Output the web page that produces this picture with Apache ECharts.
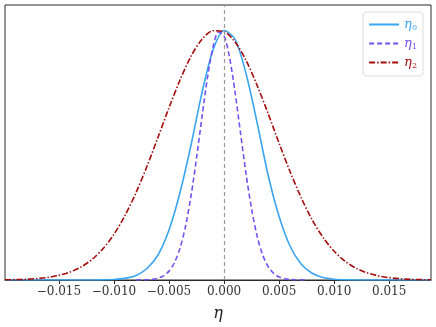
<!DOCTYPE html>
<html>
<head>
<meta charset="utf-8">
<script src="https://cdn.jsdelivr.net/npm/echarts@6/dist/echarts.min.js"></script>
<style>
  html, body { margin: 0; padding: 0; background: #fff; }
  #chart { width: 436px; height: 327px; }
</style>
</head>
<body>
<div id="chart"></div>
<script>
// 曲线数据（从图上读取的 [η, 归一化密度] 点）
const eta0 = [
  [-0.0199, 0], [-0.013, 0], [-0.012, 0.0002], [-0.011, 0.0006], [-0.010, 0.002],
  [-0.009, 0.0065], [-0.008, 0.018], [-0.007, 0.046], [-0.006, 0.10], [-0.005, 0.20],
  [-0.004, 0.35], [-0.003, 0.54], [-0.002, 0.75], [-0.001, 0.92], [0, 0.998],
  [0.001, 0.963], [0.002, 0.825], [0.003, 0.63], [0.004, 0.42],
  [0.005, 0.254], [0.006, 0.135], [0.007, 0.064], [0.008, 0.027], [0.009, 0.010],
  [0.010, 0.0033], [0.011, 0.001], [0.012, 0.0003], [0.013, 0], [0.0188, 0]
];
const eta1 = [
  [-0.008, 0], [-0.007, 0.0011], [-0.0065, 0.0029], [-0.006, 0.0072], [-0.0055, 0.0167],
  [-0.005, 0.0355], [-0.0045, 0.070], [-0.004, 0.128], [-0.0035, 0.215], [-0.003, 0.336],
  [-0.0025, 0.488], [-0.002, 0.654], [-0.0015, 0.811], [-0.001, 0.932], [-0.0005, 0.992],
  [0, 0.976], [0.0005, 0.890], [0.001, 0.751], [0.0015, 0.587], [0.002, 0.424],
  [0.0025, 0.285], [0.003, 0.176], [0.0035, 0.101], [0.004, 0.054], [0.0045, 0.0264],
  [0.005, 0.012], [0.0055, 0.005], [0.006, 0.002], [0.0065, 0.0007], [0.0075, 0]
];
const eta2 = [
  [-0.0199, 0.0008], [-0.019, 0.0015], [-0.018, 0.003], [-0.017, 0.0057], [-0.016, 0.0105],
  [-0.015, 0.0185], [-0.014, 0.0317], [-0.013, 0.052], [-0.012, 0.082], [-0.011, 0.125],
  [-0.010, 0.183], [-0.009, 0.258], [-0.008, 0.349], [-0.007, 0.455], [-0.006, 0.571],
  [-0.005, 0.689], [-0.004, 0.800], [-0.003, 0.895], [-0.002, 0.963], [-0.001, 0.997],
  [0, 0.993], [0.001, 0.952], [0.002, 0.878], [0.003, 0.779], [0.004, 0.666],
  [0.005, 0.547], [0.006, 0.433], [0.007, 0.330], [0.008, 0.241], [0.009, 0.170],
  [0.010, 0.115], [0.011, 0.075], [0.012, 0.047], [0.013, 0.0286], [0.014, 0.0166],
  [0.015, 0.0093], [0.016, 0.005], [0.017, 0.0026], [0.018, 0.0013], [0.0188, 0.0007]
];
const seriesNames = ['η0', 'η1', 'η2'];
const tickValues = [-0.015, -0.010, -0.005, 0, 0.005, 0.010, 0.015];

const colors = ['#3aa5f0', '#7352f5', '#a50d0d'];
const serif = '"DejaVu Serif", "Liberation Serif", serif';

const chart = echarts.init(document.getElementById('chart'));

const fmtTick = v => (v < 0 ? '\u2212' : '') + Math.abs(v).toFixed(3);

const richLabel = {
  i: { fontFamily: serif, fontStyle: 'italic', fontSize: 13 },
  s: { fontFamily: serif, fontSize: 8, padding: [7, 0, 0, 0] }
};

const option = {
  animation: false,
  grid: {
    left: 5, right: 5, top: 5, bottom: 47,
    show: true, borderColor: '#2a2a2a', borderWidth: 1
  },
  legend: {
    right: 13, top: 12,
    orient: 'vertical',
    itemWidth: 30, itemHeight: 10, itemGap: 5,
    backgroundColor: '#fff',
    borderColor: '#dddddd', borderWidth: 1, borderRadius: 3,
    padding: [6, 6, 6, 5],
    itemStyle: { opacity: 0 },
    formatter: name => `{i|η}{s|${name.slice(1)}}`,
    data: seriesNames.map((n, i) => ({
      name: n,
      textStyle: { color: colors[i], rich: richLabel }
    }))
  },
  xAxis: {
    type: 'value',
    min: -0.0199, max: 0.0188,
    name: 'η',
    nameLocation: 'middle',
    nameGap: 26,
    nameTextStyle: { fontFamily: serif, fontStyle: 'italic', fontSize: 16, color: '#222' },
    axisLine: { show: true, onZero: false, lineStyle: { color: '#2a2a2a', width: 1 } },
    axisTick: { show: true, length: 4, customValues: tickValues, lineStyle: { color: '#2a2a2a' } },
    axisLabel: {
      customValues: tickValues,
      formatter: fmtTick,
      fontFamily: serif, fontSize: 12, color: '#333', margin: 6
    },
    splitLine: { show: false }
  },
  yAxis: {
    type: 'value',
    min: 0, max: 1.1,
    show: false,
    splitLine: { show: false }
  },
  series: [
    {
      name: 'η0', type: 'line', data: eta0, symbol: 'none', smooth: 0.3,
      lineStyle: { color: colors[0], width: 1.6 },
      itemStyle: { color: colors[0] },
      markLine: {
        silent: true, symbol: 'none', label: { show: false },
        lineStyle: { color: '#999', type: [4, 3], width: 1.2 },
        data: [{ xAxis: 0 }]
      }
    },
    {
      name: 'η1', type: 'line', data: eta1, symbol: 'none', smooth: 0.3,
      lineStyle: { color: colors[1], width: 1.6, type: [5, 3] },
      itemStyle: { color: colors[1] }
    },
    {
      name: 'η2', type: 'line', data: eta2, symbol: 'none', smooth: 0.3,
      lineStyle: { color: colors[2], width: 1.6, type: [6, 2, 1.5, 2] },
      itemStyle: { color: colors[2] }
    }
  ]
};

chart.setOption(option);
</script>
</body>
</html>
